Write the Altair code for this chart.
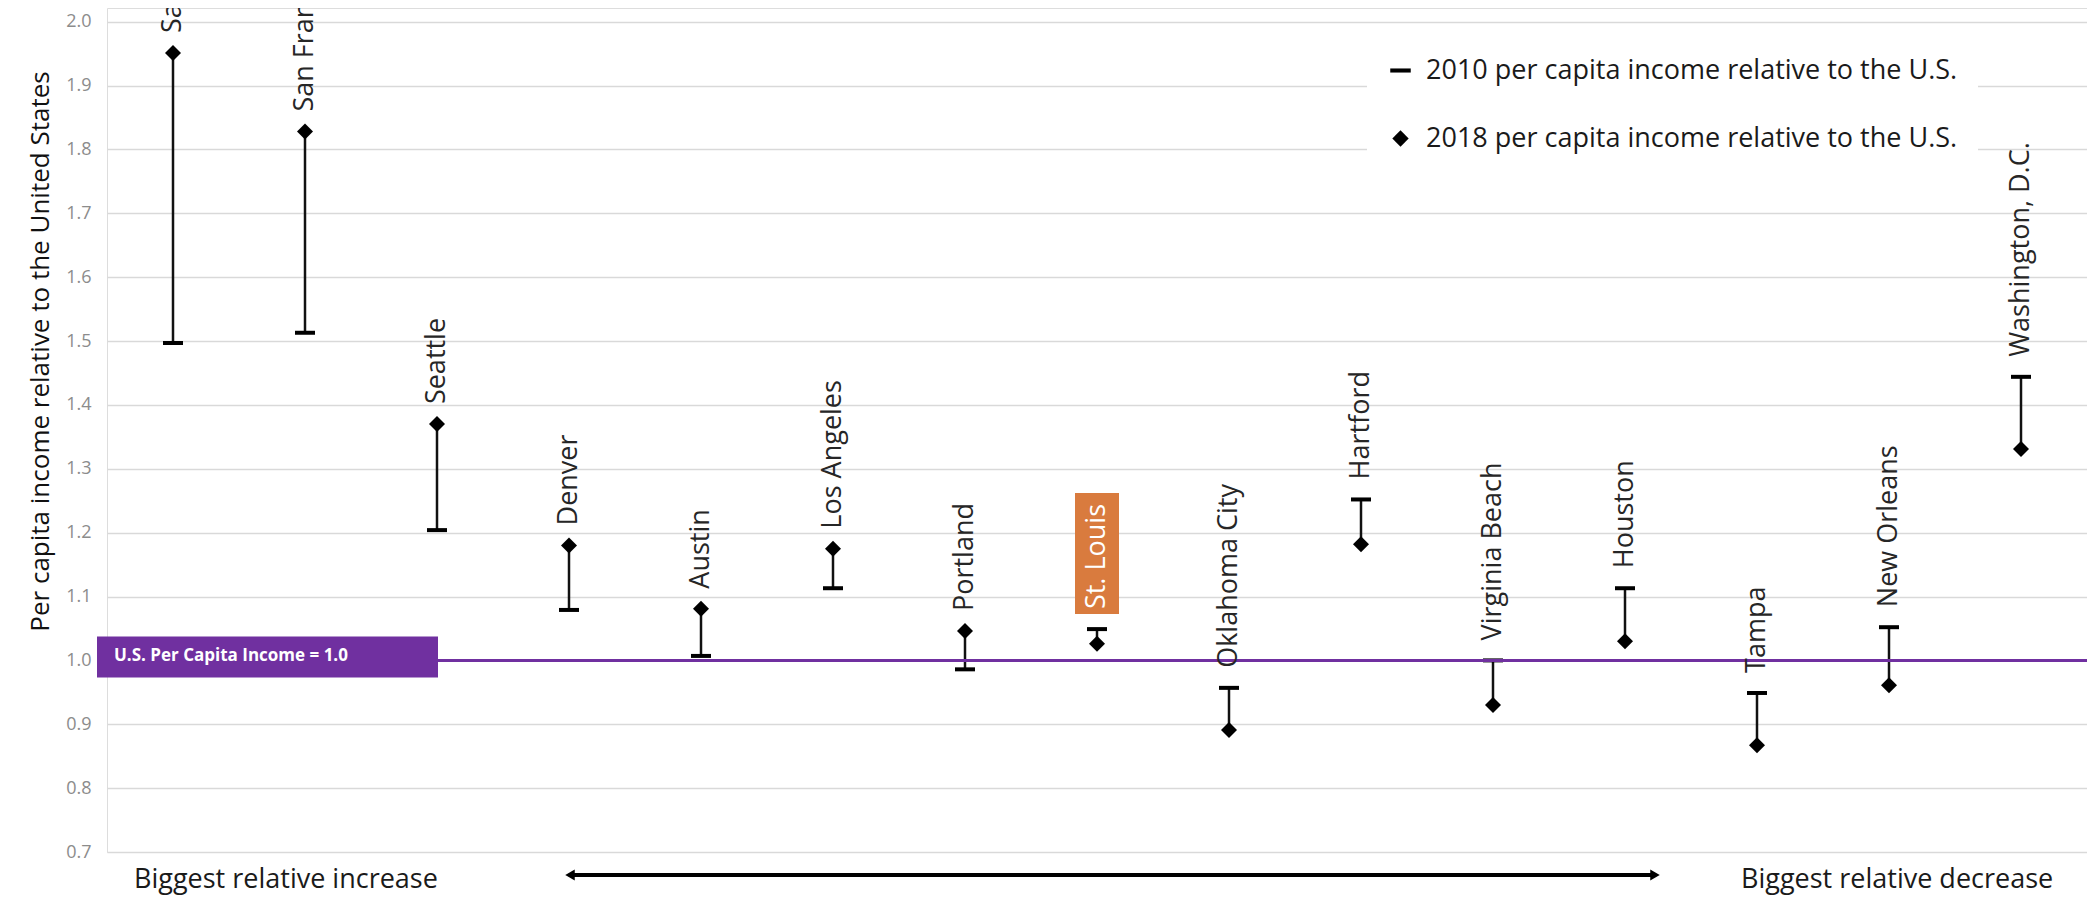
import altair as alt
import pandas as pd

# ---------------- data ----------------
cities = ["San Jose", "San Francisco", "Seattle", "Denver", "Austin", "Los Angeles",
          "Portland", "St. Louis", "Oklahoma City", "Hartford", "Virginia Beach",
          "Houston", "Tampa", "New Orleans", "Washington, D.C."]
income_2010 = [1.497, 1.513, 1.204, 1.079, 1.007, 1.113, 0.986, 1.049, 0.957, 1.252,
               1.000, 1.113, 0.949, 1.052, 1.444]
income_2018 = [1.951, 1.828, 1.370, 1.180, 1.081, 1.175, 1.046, 1.026, 0.891, 1.182,
               0.930, 1.030, 0.867, 0.961, 1.331]
series_names = ["2010 per capita income relative to the U.S.",
                "2018 per capita income relative to the U.S."]
y_ticks = [0.7, 0.8, 0.9, 1.0, 1.1, 1.2, 1.3, 1.4, 1.5, 1.6, 1.7, 1.8, 1.9, 2.0]
highlight_city = "St. Louis"
us_level = [1.0]
us_label = ["U.S. Per Capita Income = 1.0"]
axis_title = "Per capita income relative to the United States"
footer_left = ["Biggest relative increase"]
footer_right = ["Biggest relative decrease"]

wide = pd.DataFrame({"city": cities, "v2010": income_2010, "v2018": income_2018})
wide["top"] = wide[["v2010", "v2018"]].max(axis=1)
long = pd.concat([
    pd.DataFrame({"city": cities, "series": series_names[0], "value": income_2010}),
    pd.DataFrame({"city": cities, "series": series_names[1], "value": income_2018}),
])
us_df = pd.DataFrame({"level": us_level, "label": us_label})

FONT = "Open Sans"
W, H = 1980, 844

xenc = alt.X("city:N", sort=cities, axis=None,
             scale=alt.Scale(paddingInner=0, paddingOuter=0))
yscale = alt.Scale(domain=[0.7, 2.0215], nice=False, zero=False)
yaxis = alt.Axis(values=y_ticks, format=".1f", grid=True, gridColor="#d9d9d9",
                 gridWidth=1.5, domain=False, ticks=False,
                 labelFont=FONT, labelFontSize=18, labelColor="#8c8c8c",
                 labelPadding=16, title=axis_title, titleFont=FONT,
                 titleFontSize=26, titleFontWeight="normal", titleColor="#111111",
                 titleX=-67, titleY=343, titleAngle=270, titleAlign="center",
                 titleBaseline="middle")

dash_path = "M-1,-0.2H1V0.2H-1Z"
diamond_path = "M0,-0.8L0.8,0L0,0.8L-0.8,0Z"

rules = alt.Chart(wide).mark_rule(color="#111111", strokeWidth=2.5).encode(
    x=xenc,
    y=alt.Y("v2010:Q", scale=yscale, axis=yaxis),
    y2="v2018:Q",
)

points = alt.Chart(long).mark_point(filled=True, size=400, color="black",
                                     opacity=1, strokeWidth=0).encode(
    x=xenc,
    y=alt.Y("value:Q", scale=yscale),
    shape=alt.Shape("series:N",
                    scale=alt.Scale(domain=series_names, range=[dash_path, diamond_path]),
                    legend=alt.Legend(title=None, orient="none", legendX=1260, legendY=29,
                                      direction="vertical", fillColor="white", padding=20,
                                      labelFont=FONT, labelFontSize=27,
                                      labelColor="#1a1a1a", labelOffset=12, labelLimit=0,
                                      rowPadding=40, symbolSize=420,
                                      symbolFillColor="black", symbolStrokeColor="black",
                                      symbolStrokeWidth=0, symbolOpacity=1)),
)

us_line = alt.Chart(us_df).mark_rule(color="#7030A0", strokeWidth=3).encode(
    y=alt.Y("level:Q", scale=yscale),
)

us_box = alt.Chart(us_df).mark_rect(color="#7030A0", yOffset=-24, y2Offset=17).encode(
    x=alt.value(-10), x2=alt.value(331),
    y=alt.Y("level:Q", scale=yscale), y2="level:Q",
)

us_text = alt.Chart(us_df).mark_text(color="white", font=FONT, fontWeight="bold",
                                     fontSize=17, align="left", baseline="middle",
                                     dy=-4).encode(
    x=alt.value(7), y=alt.Y("level:Q", scale=yscale), text="label:N",
)

hl_box = alt.Chart(wide).transform_filter(
    alt.datum.city == highlight_city
).mark_bar(color="#D97B3E", size=44, yOffset=-136, y2Offset=-15).encode(
    x=xenc, y=alt.Y("top:Q", scale=yscale), y2="top:Q",
)

labels = alt.Chart(wide).mark_text(angle=270, align="left", baseline="middle", dx=20,
                                   font=FONT, fontSize=27, clip=True).encode(
    x=xenc,
    y=alt.Y("top:Q", scale=yscale),
    text="city:N",
    color=alt.condition(alt.datum.city == highlight_city,
                        alt.value("white"), alt.value("#262626")),
)

foot_l = alt.Chart(pd.DataFrame({"t": footer_left})).mark_text(
    font=FONT, fontSize=27, align="left", baseline="middle", color="#1a1a1a").encode(
    x=alt.value(27), y=alt.value(872), text="t:N")
foot_r = alt.Chart(pd.DataFrame({"t": footer_right})).mark_text(
    font=FONT, fontSize=27, align="left", baseline="middle", color="#1a1a1a").encode(
    x=alt.value(1634), y=alt.value(872), text="t:N")

arrow_line = alt.Chart(pd.DataFrame({"t": [0]})).mark_rule(
    color="black", strokeWidth=4).encode(
    x=alt.value(463), x2=alt.value(1548), y=alt.value(867))
arrow_l = alt.Chart(pd.DataFrame({"t": [0]})).mark_point(
    shape="triangle-left", filled=True, color="black", size=120, opacity=1).encode(
    x=alt.value(463), y=alt.value(867))
arrow_r = alt.Chart(pd.DataFrame({"t": [0]})).mark_point(
    shape="triangle-right", filled=True, color="black", size=120, opacity=1).encode(
    x=alt.value(1548), y=alt.value(867))

chart = alt.layer(
    rules, points, us_line, us_box, us_text, hl_box, labels,
    foot_l, foot_r, arrow_line, arrow_l, arrow_r,
).properties(
    width=W, height=H,
    autosize=alt.AutoSizeParams(type="none"),
    padding={"left": 99, "top": 0, "right": 0, "bottom": 50},
).configure_view(stroke=None).configure(background="white")

chart.save("out.html", embed_options={"renderer": "svg", "actions": False})
